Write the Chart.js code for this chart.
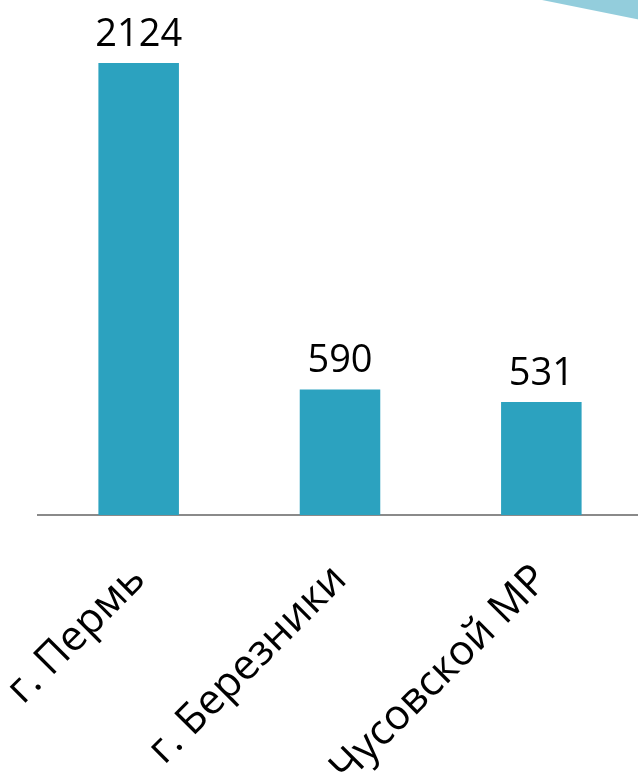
<!DOCTYPE html>
<html>
<head>
<meta charset="utf-8">
<script src="https://cdn.jsdelivr.net/npm/chart.js@4"></script>
<style>
  html, body { margin: 0; padding: 0; background: #ffffff; overflow: hidden; }
  #wrap { position: relative; width: 642px; height: 777px; }
  #deco { position: absolute; right: -4px; top: 0; width: 104px; height: 21px;
          background: #93cddc; clip-path: polygon(0 0, 100% 0, 100% 100%); }
</style>
</head>
<body>
<div id="wrap">
  <canvas id="c" width="642" height="777"></canvas>
  <div id="deco"></div>
</div>
<script>
const categories = ["г. Пермь", "г. Березники", "Чусовской МР"];
const values = [2124, 590, 531];
const valueLabels = ["2124", "590", "531"];

const FONT = "'Open Sans', 'DejaVu Sans', sans-serif";

const valuePlugin = {
  id: 'valueLabels',
  afterDatasetsDraw(chart) {
    const ctx = chart.ctx;
    const meta = chart.getDatasetMeta(0);
    ctx.save();
    ctx.font = "38px " + FONT;
    ctx.fillStyle = "#000000";
    ctx.textAlign = "center";
    ctx.textBaseline = "alphabetic";
    meta.data.forEach((bar, i) => {
      ctx.fillText(valueLabels[i], bar.x, bar.y - 17);
    });
    ctx.restore();
  }
};

new Chart(document.getElementById('c'), {
  type: 'bar',
  data: {
    labels: categories,
    datasets: [{
      data: values,
      backgroundColor: '#2ca2bf',
      borderWidth: 0,
      categoryPercentage: 1.0,
      barPercentage: 0.4
    }]
  },
  options: {
    responsive: false,
    animation: false,
    devicePixelRatio: 1,
    layout: { padding: { left: 38, right: 0, top: 0, bottom: 0 } },
    plugins: { legend: { display: false }, tooltip: { enabled: false } },
    scales: {
      x: {
        grid: { display: false, drawTicks: false },
        border: { display: true, color: '#8a8a8a', width: 2 },
        ticks: {
          color: '#000000',
          font: { family: FONT, size: 42 },
          minRotation: 45,
          maxRotation: 45,
          padding: 40,
          autoSkip: false
        },
        afterFit(scale) {
          scale.height = 262;
          scale.paddingLeft = 0;
          scale.paddingRight = 0;
        }
      },
      y: {
        display: false,
        min: 0,
        max: 2420
      }
    }
  },
  plugins: [valuePlugin]
});
</script>
</body>
</html>
